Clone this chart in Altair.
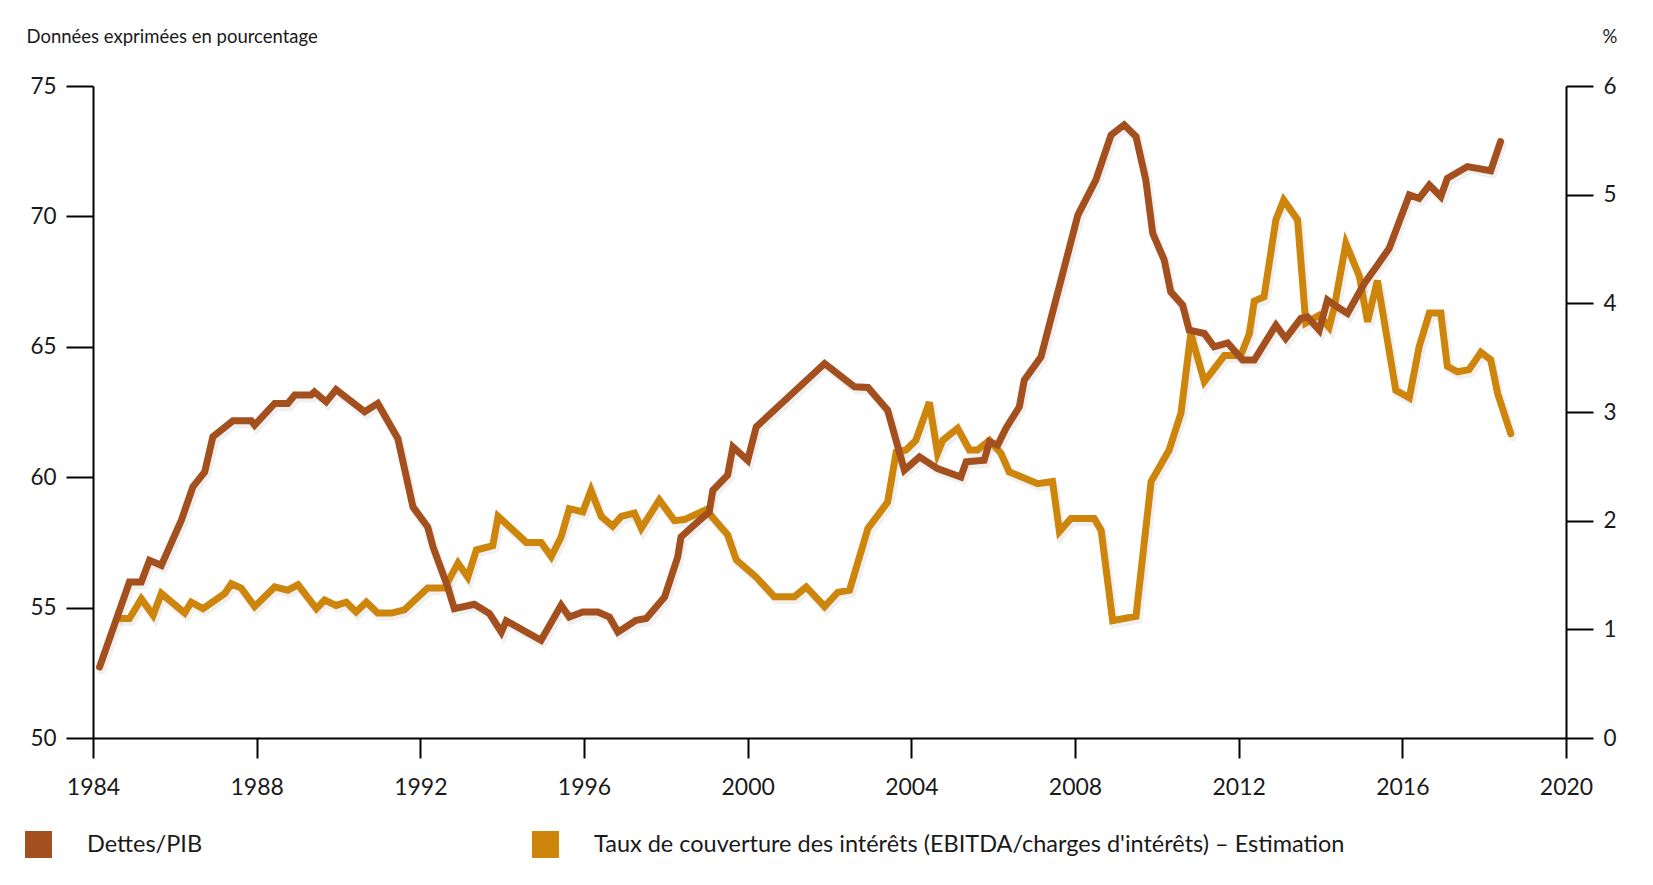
import altair as alt
import pandas as pd

BROWN = "#A34F1E"
ORANGE = "#CE850B"
FONT = "Lato"

# Dettes/PIB (left axis, %)
debt_years = [1984.16, 1984.89, 1985.18, 1985.38, 1985.67, 1986.16, 1986.44, 1986.73, 1986.93,
              1987.42, 1987.87, 1987.95, 1988.44, 1988.76, 1988.93, 1989.33, 1989.41, 1989.70,
              1989.94, 1990.64, 1990.96, 1991.45, 1991.82, 1992.18, 1992.31, 1992.67, 1992.83,
              1993.32, 1993.69, 1993.98, 1994.10, 1994.95, 1995.44, 1995.64, 1995.97, 1996.34,
              1996.62, 1996.83, 1997.27, 1997.52, 1997.97, 1998.29, 1998.37, 1998.73, 1999.06,
              1999.15, 1999.51, 1999.64, 2000.00, 2000.21, 2001.88, 2002.61, 2002.94, 2003.42,
              2003.83, 2004.20, 2004.64, 2005.21, 2005.34, 2005.78, 2005.91, 2006.11, 2006.31,
              2006.64, 2006.76, 2007.17, 2008.07, 2008.51, 2008.88, 2009.20, 2009.49, 2009.73,
              2009.90, 2010.18, 2010.34, 2010.63, 2010.79, 2011.16, 2011.40, 2011.73, 2012.10,
              2012.38, 2012.91, 2013.15, 2013.52, 2013.68, 2013.97, 2014.17, 2014.34, 2014.66,
              2015.07, 2015.39, 2015.68, 2016.17, 2016.41, 2016.66, 2016.94, 2017.10, 2017.59,
              2018.16, 2018.40]
debt_values = [52.72, 55.98, 55.98, 56.81, 56.62, 58.35, 59.63, 60.20, 61.55,
               62.16, 62.16, 62.00, 62.83, 62.83, 63.15, 63.15, 63.27, 62.89,
               63.36, 62.51, 62.83, 61.48, 58.86, 58.09, 57.33, 55.79, 54.96,
               55.13, 54.77, 54.06, 54.49, 53.75, 55.09, 54.64, 54.83, 54.83,
               54.64, 54.06, 54.51, 54.58, 55.41, 56.94, 57.71, 58.22, 58.67,
               59.50, 60.08, 61.16, 60.65, 61.93, 64.36, 63.47, 63.44, 62.57,
               60.27, 60.78, 60.33, 60.01, 60.59, 60.65, 61.35, 61.23, 61.87,
               62.70, 63.72, 64.62, 70.05, 71.40, 73.12, 73.51, 73.06, 71.40,
               69.35, 68.33, 67.11, 66.60, 65.64, 65.51, 65.00, 65.15, 64.49,
               64.49, 65.83, 65.32, 66.09, 66.15, 65.64, 66.79, 66.60, 66.28,
               67.43, 68.13, 68.78, 70.82, 70.69, 71.20, 70.76, 71.46, 71.91,
               71.75, 72.87]

# Taux de couverture des intérêts (right axis)
cov_years = [1984.69, 1984.89, 1985.18, 1985.47, 1985.67, 1986.24, 1986.40, 1986.69, 1987.22,
             1987.38, 1987.62, 1987.95, 1988.44, 1988.76, 1989.01, 1989.46, 1989.66, 1989.94,
             1990.19, 1990.43, 1990.68, 1990.96, 1991.29, 1991.61, 1992.18, 1992.59, 1992.92,
             1993.16, 1993.37, 1993.77, 1993.90, 1994.59, 1994.95, 1995.20, 1995.44, 1995.64,
             1995.97, 1996.17, 1996.42, 1996.70, 1996.91, 1997.23, 1997.40, 1997.84, 1998.21,
             1998.45, 1998.98, 1999.51, 1999.72, 2000.21, 2000.65, 2001.14, 2001.43, 2001.88,
             2002.20, 2002.49, 2002.94, 2003.42, 2003.63, 2003.87, 2004.11, 2004.44, 2004.64,
             2004.77, 2005.13, 2005.42, 2005.62, 2005.91, 2006.19, 2006.39, 2007.09, 2007.45,
             2007.62, 2007.90, 2008.47, 2008.64, 2008.92, 2009.49, 2009.86, 2010.30, 2010.59,
             2010.83, 2011.16, 2011.65, 2012.05, 2012.26, 2012.38, 2012.62, 2012.91, 2013.10,
             2013.44, 2013.64, 2013.97, 2014.21, 2014.34, 2014.62, 2014.95, 2015.15, 2015.39,
             2015.84, 2016.17, 2016.41, 2016.66, 2016.94, 2017.10, 2017.35, 2017.63, 2017.92,
             2018.16, 2018.33, 2018.65]
cov_values = [1.10, 1.10, 1.28, 1.13, 1.33, 1.15, 1.25, 1.19, 1.33,
              1.42, 1.38, 1.21, 1.39, 1.36, 1.41, 1.19, 1.27, 1.22,
              1.25, 1.16, 1.25, 1.15, 1.15, 1.18, 1.38, 1.38, 1.61,
              1.48, 1.73, 1.77, 2.04, 1.80, 1.80, 1.67, 1.85, 2.11,
              2.08, 2.28, 2.04, 1.95, 2.04, 2.07, 1.93, 2.19, 2.00,
              2.01, 2.10, 1.87, 1.64, 1.48, 1.30, 1.30, 1.39, 1.21,
              1.34, 1.36, 1.93, 2.17, 2.63, 2.65, 2.74, 3.09, 2.62,
              2.74, 2.85, 2.65, 2.65, 2.74, 2.62, 2.45, 2.34, 2.36,
              1.90, 2.02, 2.02, 1.91, 1.08, 1.12, 2.36, 2.65, 2.99,
              3.72, 3.28, 3.52, 3.52, 3.72, 4.02, 4.06, 4.77, 4.95,
              4.77, 3.82, 3.89, 3.78, 3.97, 4.55, 4.25, 3.83, 4.21,
              3.20, 3.13, 3.60, 3.91, 3.91, 3.42, 3.37, 3.39, 3.55,
              3.48, 3.17, 2.80]

x_ticks = [1984, 1988, 1992, 1996, 2000, 2004, 2008, 2012, 2016, 2020]
left_ticks = [50, 55, 60, 65, 70, 75]
right_ticks = [0, 1, 2, 3, 4, 5, 6]

debt_name = "Dettes/PIB"
cov_name = "Taux de couverture des intérêts (EBITDA/charges d'intérêts) – Estimation"

debt_df = pd.DataFrame({"year": debt_years, "value": debt_values, "series": debt_name})
cov_df = pd.DataFrame({"year": cov_years, "value": cov_values, "series": cov_name})

x_axis = alt.Axis(values=x_ticks, format="d", title=None, tickSize=20, labelPadding=18,
                  domainWidth=2, tickWidth=2, domainColor="black", tickColor="black",
                  labelFontSize=23, labelFont=FONT, labelColor="#1a1a1a", grid=False,
                  labelFlush=False)
x_enc = alt.X("year:Q", scale=alt.Scale(domain=[1984, 2020], nice=False, zero=False), axis=x_axis)

left_scale = alt.Scale(domain=[50, 75], nice=False, zero=False)
right_scale = alt.Scale(domain=[0, 6], nice=False, zero=True)

left_axis = alt.Axis(orient="left", values=left_ticks, tickSize=27, labelPadding=10,
                     domainWidth=2, tickWidth=2, domainColor="black", tickColor="black",
                     labelFontSize=22.5, labelFont=FONT, labelColor="#1a1a1a", grid=False,
                     title="Données exprimées en pourcentage", titleAngle=0, titleX=-67,
                     titleY=-50, titleAlign="left", titleBaseline="middle", titleFontSize=18.5,
                     titleFontWeight="normal", titleFont=FONT, titleColor="#1a1a1a")
right_axis = alt.Axis(orient="right", values=right_ticks, tickSize=27, labelPadding=10,
                      domainWidth=2, tickWidth=2, domainColor="black", tickColor="black",
                      labelFontSize=22.5, labelFont=FONT, labelColor="#1a1a1a", grid=False,
                      title="%", titleAngle=0, titleX=36, titleY=-50, titleAlign="left",
                      titleBaseline="middle", titleFontSize=18.5, titleFontWeight="normal",
                      titleFont=FONT, titleColor="#1a1a1a")


def legend(x, color):
    return alt.Legend(orient="none", legendX=x, legendY=745, title=None, symbolType="square",
                      symbolSize=729, symbolFillColor=color, symbolStrokeWidth=0,
                      symbolOpacity=1, labelFontSize=23.5, labelFont=FONT, labelColor="#1a1a1a",
                      labelOffset=35, padding=0, labelLimit=1200)


line_props = dict(strokeWidth=7, strokeCap="round", strokeJoin="miter", interpolate="linear")
shadow_props = dict(strokeWidth=9, strokeCap="round", strokeJoin="miter", color="#000000",
                    opacity=0.06, xOffset=2, yOffset=3)

cov_shadow = alt.Chart(cov_df).mark_line(**shadow_props).encode(
    x=x_enc, y=alt.Y("value:Q", scale=right_scale, axis=None))
cov_line = alt.Chart(cov_df).mark_line(**line_props).encode(
    x=x_enc,
    y=alt.Y("value:Q", scale=right_scale, axis=right_axis),
    color=alt.Color("series:N", scale=alt.Scale(domain=[cov_name], range=[ORANGE]),
                    legend=legend(439, ORANGE)))
debt_shadow = alt.Chart(debt_df).mark_line(**shadow_props).encode(
    x=x_enc, y=alt.Y("value:Q", scale=left_scale, axis=None))
debt_line = alt.Chart(debt_df).mark_line(**line_props).encode(
    x=x_enc,
    y=alt.Y("value:Q", scale=left_scale, axis=left_axis),
    color=alt.Color("series:N", scale=alt.Scale(domain=[debt_name], range=[BROWN]),
                    legend=legend(-68, BROWN)))

chart = alt.layer(cov_shadow, debt_shadow, cov_line, debt_line).resolve_scale(
    y="independent", color="independent"
).properties(
    width=1473, height=652,
    padding={"left": 85, "top": 78, "right": 79, "bottom": 139},
    autosize=alt.AutoSizeParams(type="none"),
    background="white",
).configure_view(stroke=None)

chart.save("out.html", embed_options={"renderer": "svg", "actions": False})
